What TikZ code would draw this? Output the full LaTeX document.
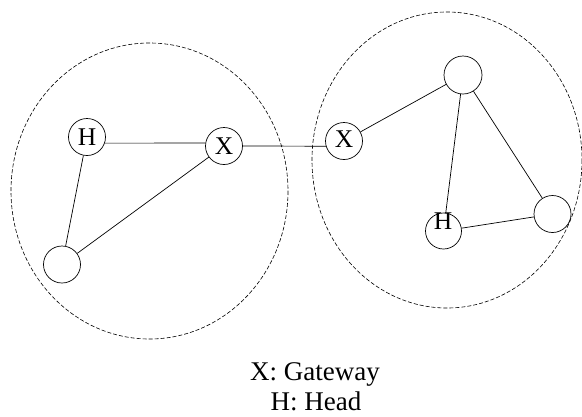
\documentclass[tikz,border=0pt]{standalone}
\usepackage{fontspec}
\setmainfont{Liberation Serif}
\begin{document}
\begin{tikzpicture}[x=1pt,y=-1pt,
  cluster/.style={draw=black, dash pattern=on 4pt off 2pt, line width=0.6pt},
  nd/.style={draw, circle, inner sep=0pt, minimum size=37pt, line width=0.7pt,
    font=\fontsize{25.5}{28}\selectfont},
  txt/.style={inner sep=0pt, font=\fontsize{25.5}{28}\selectfont},
  link/.style={line width=0.7pt},
  legend/.style={inner sep=0pt, font=\fontsize{27}{31}\selectfont}]
\useasboundingbox (0,0) rectangle (582,416);
% clusters
\draw[cluster] (149.5,191) ellipse [x radius=138.5, y radius=148];
\draw[cluster] (447,160) ellipse [x radius=135, y radius=148];
% left cluster
\node[nd] (Hl) at (87,137) {H};
\node[nd] (Xl) at (224,146) {X};
\node[nd] (Bl) at (62,264.5) {};
% right cluster
\node[nd] (Xr) at (344,141) {\raisebox{3pt}{X}};
\node[nd, minimum size=38pt] (Tr) at (463,75) {};
\node[nd, minimum size=36pt] (Hr) at (443.5,231) {};
\node[txt] (HrT) at (443,221.5) {H};
\node[nd] (Rr) at (552.5,214) {};
% links
\draw[link] (Hl.-19) -- (Xl.171);
\draw[link] (Hl) -- (Bl);
\draw[link] (Xl) -- (Bl);
\draw[link] (Xl.east) -- (Xr.196);
\draw[link] (Xr) -- (Tr);
\draw[link] (Tr) -- (Hr);
\draw[link] (Tr) -- (Rr);
\draw[link] (Hr) -- (Rr);
% legend
\node[legend, anchor=base] (lgX) at (315,380) {X: Gateway};
\node[legend, anchor=base] (lgH) at (316,410) {H: Head};
\end{tikzpicture}
\end{document}
